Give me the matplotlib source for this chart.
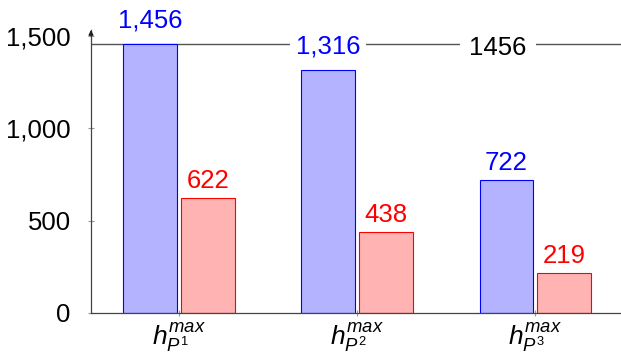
import numpy as np
import matplotlib.pyplot as plt

groups = [r'$h^{max}_{P^1}$', r'$h^{max}_{P^2}$', r'$h^{max}_{P^3}$']
blue_vals = [1456, 1316, 722]
red_vals = [622, 438, 219]
ref_line = 1456

plt.rcParams['font.family'] = ['Liberation Sans', 'DejaVu Sans']
plt.rcParams['mathtext.fontset'] = 'custom'
plt.rcParams['mathtext.it'] = 'Liberation Sans:italic'
plt.rcParams['mathtext.rm'] = 'Liberation Sans'

fig = plt.figure(figsize=(6.21, 3.57), dpi=100)
ax = fig.add_axes([91 / 621, 44 / 357, 530 / 621, 283 / 357])

x = np.arange(1, len(groups) + 1)
w = 0.303
gap = 0.011
bb = ax.bar(x - w / 2 - gap, blue_vals, w, color='#b3b3ff', edgecolor='blue', linewidth=0.8, zorder=2)
rb = ax.bar(x + w / 2 + gap, red_vals, w, color='#ffb3b3', edgecolor='red', linewidth=0.8, zorder=2)

# reference line at the first value
ax.axhline(ref_line, color='#555555', linewidth=1.0, zorder=1)
ax.annotate(f'{ref_line}', (2.79, ref_line), xytext=(0, -8), textcoords='offset points',
            ha='center', va='baseline', fontsize=18.5,
            bbox=dict(facecolor='white', edgecolor='none', pad=7), zorder=1.5)


def label_bars(rects, vals, color):
    for rect, v in zip(rects, vals):
        # numbers with a thousands comma sit a bit higher
        dy = 11.5 if v >= 1000 else 7.2
        # white box hides the line behind the label but stays under the bars
        ax.annotate(f'{v:,}', (rect.get_x() + rect.get_width() / 2, v), xytext=(0, dy),
                    textcoords='offset points', ha='center', va='baseline', fontsize=18.5,
                    color=color, bbox=dict(facecolor='white', edgecolor='none', pad=4), zorder=1.5)


label_bars(bb, blue_vals, 'blue')
label_bars(rb, red_vals, 'red')

ax.set_xlim(0.506, 3.48)
ax.set_ylim(0, 1531)
ax.set_xticks(x)
ax.set_xticklabels(groups, fontsize=19)
ax.set_yticks([0, 500, 1000, 1500])
ax.set_yticklabels(['0', '500', '1,000', '1,500'], fontsize=18.5)
ax.tick_params(direction='inout', length=5, color='#999999')
ax.tick_params(axis='y', pad=12)
ax.tick_params(axis='x', pad=4)

for s in ['top', 'right']:
    ax.spines[s].set_visible(False)
for s in ['left', 'bottom']:
    ax.spines[s].set_color('#444444')
    ax.spines[s].set_linewidth(0.9)

# arrow tip on the y axis
ax.annotate('', xy=(0, 1.01), xytext=(0, 0.97), xycoords='axes fraction',
            arrowprops=dict(arrowstyle='-|>', color='#222222', lw=0.9, mutation_scale=7),
            annotation_clip=False)

fig.savefig('out.png', dpi=100)
